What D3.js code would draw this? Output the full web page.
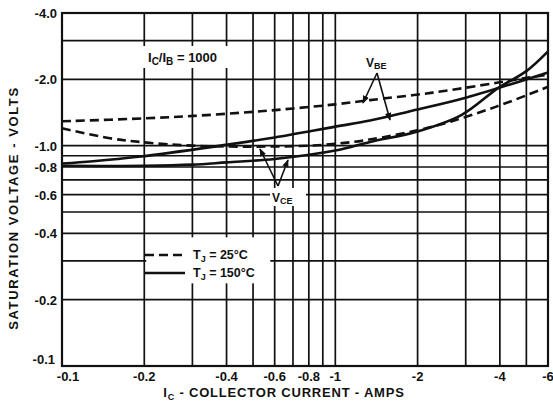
<!DOCTYPE html>
<html>
<head>
<meta charset="utf-8">
<script src="https://cdn.jsdelivr.net/npm/d3@7"></script>
<style>
	body { margin: 0; background: #fff; }
	svg text { font-family: 'Liberation Sans', Arial, sans-serif; font-weight: bold; fill: #111; }
</style>
</head>
<body>
<svg id="chart" width="553" height="406"></svg>
<script>
// values are magnitudes, labels carry the minus sign
const xTicks = [0.1, 0.2, 0.4, 0.6, 0.8, 1, 2, 4, 6]
const xTickLabels = ['-0.1', '-0.2', '-0.4', '-0.6', '-0.8', '-1', '-2', '-4', '-6']
const yTicks = [0.1, 0.2, 0.4, 0.6, 0.8, 1, 2, 4]
const yTickLabels = ['-0.1', '-0.2', '-0.4', '-0.6', '-0.8', '-1.0', '-2.0', '-4.0']
const xGrid = [0.1, 0.2, 0.3, 0.4, 0.5, 0.6, 0.7, 0.8, 0.9, 1, 2, 3, 4, 5, 6]
const yGrid = [0.1, 0.2, 0.3, 0.4, 0.5, 0.6, 0.7, 0.8, 0.9, 1, 2, 3, 4]

// [Ic, V]
const vbe25 = [[0.1, 1.29], [0.2, 1.33], [0.35, 1.38], [0.6, 1.45], [1.0, 1.54], [1.34, 1.61], [2.27, 1.74], [3.9, 1.93], [5, 2.03], [6, 2.1]]
const vce25 = [[0.1, 1.2], [0.15, 1.08], [0.2, 1.035], [0.3, 1.0], [0.5, 0.99], [0.8, 1.0], [1.0, 1.02], [1.3, 1.06], [2.27, 1.22], [3.86, 1.5], [6, 1.85]]
const vbe150 = [[0.1, 0.83], [0.13, 0.85], [0.19, 0.89], [0.36, 0.99], [0.6, 1.09], [1.0, 1.22], [1.34, 1.3], [1.91, 1.44], [3.0, 1.65], [6, 2.15]]
const vce150 = [[0.1, 0.81], [0.2, 0.81], [0.3, 0.82], [0.4, 0.84], [0.6, 0.87], [1.0, 0.95], [1.34, 1.04], [2.0, 1.16], [2.9, 1.38], [3.95, 1.83], [5, 2.18], [6, 2.68]]

const margin = {left: 62, right: 5, top: 13, bottom: 40}
const width = 553
const height = 406

const svg = d3.select('#chart')

const x = d3.scaleLog()
	.domain([0.1, 6])
	.range([margin.left, width - margin.right])

const y = d3.scaleLog()
	.domain([0.1, 4])
	.range([height - margin.bottom, margin.top])

svg.append('defs').append('marker')
	.attr('id', 'head')
	.attr('viewBox', '0 0 10 10')
	.attr('refX', 9).attr('refY', 5)
	.attr('markerWidth', 5).attr('markerHeight', 5)
	.attr('orient', 'auto')
	.append('path')
	.attr('d', 'M0,1 L10,5 L0,9 z')
	.attr('fill', '#111')

// grid
const grid = svg.append('g').attr('class', 'grid')
	.attr('stroke', '#111')
	.attr('stroke-width', 1.7)

grid.selectAll('.vline')
	.data(xGrid)
	.enter().append('line')
	.attr('x1', d => x(d)).attr('x2', d => x(d))
	.attr('y1', y(0.1)).attr('y2', y(4))

grid.selectAll('.hline')
	.data(yGrid)
	.enter().append('line')
	.attr('y1', d => y(d)).attr('y2', d => y(d))
	.attr('x1', x(0.1)).attr('x2', x(6))

// frame
svg.append('rect')
	.attr('x', x(0.1)).attr('y', y(4))
	.attr('width', x(6) - x(0.1)).attr('height', y(0.1) - y(4))
	.attr('fill', 'none').attr('stroke', '#111').attr('stroke-width', 2.2)

// white patches behind in-plot labels
function patch(x0, y0, w, h) {
	svg.append('rect').attr('x', x0).attr('y', y0).attr('width', w).attr('height', h).attr('fill', '#fff')
}
patch(x(0.2) + 2, y(0.4) + 4, 124, 46)
patch(143, 46, 102, 22)
patch(364, 54, 30, 17)
patch(270, 188, 36, 18)

// curves
const line = d3.line()
	.x(d => x(d[0]))
	.y(d => y(d[1]))
	.curve(d3.curveCatmullRom.alpha(0.5))

const series = [
	{data: vbe25, dash: '9,5'},
	{data: vce25, dash: '9,5'},
	{data: vbe150, dash: null},
	{data: vce150, dash: null}
]

svg.append('g').selectAll('path')
	.data(series)
	.enter().append('path')
	.attr('d', d => line(d.data))
	.attr('fill', 'none')
	.attr('stroke', '#111')
	.attr('stroke-width', 2.6)
	.attr('stroke-dasharray', d => d.dash)

// tick labels
svg.append('g').selectAll('text')
	.data(yTicks)
	.enter().append('text')
	.attr('x', (d, i) => d === 0.1 ? 55 : 57)
	.attr('y', d => y(d) + (d === 0.1 ? -2 : 5))
	.attr('text-anchor', 'end')
	.attr('font-size', 13)
	.text((d, i) => yTickLabels[i])

svg.append('g').selectAll('text')
	.data(xTicks)
	.enter().append('text')
	.attr('x', d => d === 0.1 ? x(d) + 6 : x(d))
	.attr('y', 381)
	.attr('text-anchor', 'middle')
	.attr('font-size', 13)
	.text((d, i) => xTickLabels[i])

// axis titles
svg.append('text')
	.attr('transform', `translate(18, 208) rotate(-90)`)
	.attr('text-anchor', 'middle')
	.attr('font-size', 13)
	.attr('letter-spacing', 1.6)
	.text('SATURATION VOLTAGE - VOLTS')

const xt = svg.append('text')
	.attr('x', 284).attr('y', 397)
	.attr('text-anchor', 'middle')
	.attr('font-size', 13)
	.attr('letter-spacing', 0.8)
xt.append('tspan').text('I')
xt.append('tspan').attr('dy', 3).attr('font-size', 9).text('C')
xt.append('tspan').attr('dy', -3).text(' - COLLECTOR CURRENT - AMPS')

// Ic/Ib label
const rt = svg.append('text')
	.attr('x', 148).attr('y', 62)
	.attr('font-size', 13)
rt.append('tspan').text('I')
rt.append('tspan').attr('dy', 3).attr('font-size', 10).text('C')
rt.append('tspan').attr('dy', -3).text('/I')
rt.append('tspan').attr('dy', 3).attr('font-size', 10).text('B')
rt.append('tspan').attr('dy', -3).text(' = 1000')

// Vbe / Vce labels with arrows
const vb = svg.append('text').attr('x', 366).attr('y', 67).attr('font-size', 12)
vb.append('tspan').text('V')
vb.append('tspan').attr('dy', 2).attr('font-size', 9).text('BE')

const vc = svg.append('text').attr('x', 272).attr('y', 202).attr('font-size', 12)
vc.append('tspan').text('V')
vc.append('tspan').attr('dy', 2).attr('font-size', 9).text('CE')

const arrows = [
	[[377, 73], [363, 103]],
	[[377, 73], [390, 120]],
	[[278, 186], [260, 149]],
	[[278, 186], [288, 160]]
]
svg.append('g').selectAll('line')
	.data(arrows)
	.enter().append('line')
	.attr('x1', d => d[0][0]).attr('y1', d => d[0][1])
	.attr('x2', d => d[1][0]).attr('y2', d => d[1][1])
	.attr('stroke', '#111').attr('stroke-width', 1.6)
	.attr('marker-end', 'url(#head)')

// legend
const legendItems = [
	{dash: '9,5', label: '25°C'},
	{dash: null, label: '150°C'}
]
const lg = svg.append('g').attr('transform', 'translate(145, 255)')
lg.selectAll('line')
	.data(legendItems)
	.enter().append('line')
	.attr('x1', 0).attr('x2', 40)
	.attr('y1', (d, i) => i * 18).attr('y2', (d, i) => i * 18)
	.attr('stroke', '#111').attr('stroke-width', 2.6)
	.attr('stroke-dasharray', d => d.dash)
lg.selectAll('text')
	.data(legendItems)
	.enter().append('text')
	.attr('x', 48).attr('y', (d, i) => i * 18 + 4)
	.attr('font-size', 12.5)
	.each(function(d) {
		const t = d3.select(this)
		t.append('tspan').text('T')
		t.append('tspan').attr('dy', 3).attr('font-size', 9).text('J')
		t.append('tspan').attr('dy', -3).text(' = ' + d.label)
	})
</script>
</body>
</html>
